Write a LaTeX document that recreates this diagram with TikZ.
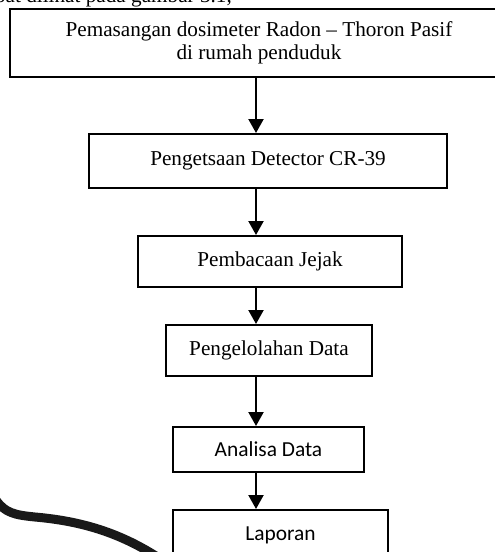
\documentclass[tikz,border=0pt]{standalone}
\usepackage{fontspec}
\setmainfont{Liberation Serif}
\newfontfamily\calib{Carlito}
\usetikzlibrary{arrows.meta}
\tikzset{
  boxs/.style={draw, line width=2pt, inner sep=0pt, align=center,
    font=\fontsize{21.2}{23}\selectfont},
  boxc/.style={boxs, font=\calib\fontsize{21.4}{24}\selectfont},
  arr/.style={line width=2.2pt, -{Triangle[length=14pt,width=15pt]}},
}
\begin{document}
\begin{tikzpicture}[x=1pt,y=-1pt]
\useasboundingbox (0,0) rectangle (495,552);
\clip (0,0) rectangle (495,552);
\fill[white] (0,0) rectangle (495,552);
% cut-off caption text at top
\node[anchor=base east, inner sep=0pt, font=\fontsize{21.2}{24}\selectfont] (cap) at (232,2.5) {dapat dilihat pada gambar 3.1,};
\node[boxs, minimum width=498pt, minimum height=68pt] (b1) at (259,43)
  {Pemasangan dosimeter Radon -- Thoron Pasif\\di rumah penduduk};
\node[boxs, minimum width=358pt, minimum height=54pt] (b2) at (268,161) {Pengetsaan Detector CR-39};
\node[boxs, minimum width=264pt, minimum height=51pt] (b3) at (270,261.5) {Pembacaan Jejak};
\node[boxs, minimum width=206pt, minimum height=51pt] (b4) at (269,350.5) {Pengelolahan Data};
\node[boxc, minimum width=191pt, minimum height=45pt] (b5) at (268.5,449.5) {Analisa Data};
\node[boxc, minimum width=215pt, minimum height=50pt] (b6) at (280.5,535) {Laporan};
\coordinate (ax) at (256,0);
\draw[arr] (ax |- b1.south) -- (ax |- b2.north);
\draw[arr] (ax |- b2.south) -- (ax |- b3.north);
\draw[arr] (ax |- b3.south) -- (ax |- b4.north);
\draw[arr] (ax |- b4.south) -- (ax |- b5.north);
\draw[arr] (ax |- b5.south) -- (ax |- b6.north);
% thick hand-drawn stroke at bottom left
\draw[line width=9pt, line cap=round, black!90] (-4,500) .. controls (5,513) and (15,515) .. (35,517)
  .. controls (80,521) and (120,532) .. (162,560);
\end{tikzpicture}
\end{document}
